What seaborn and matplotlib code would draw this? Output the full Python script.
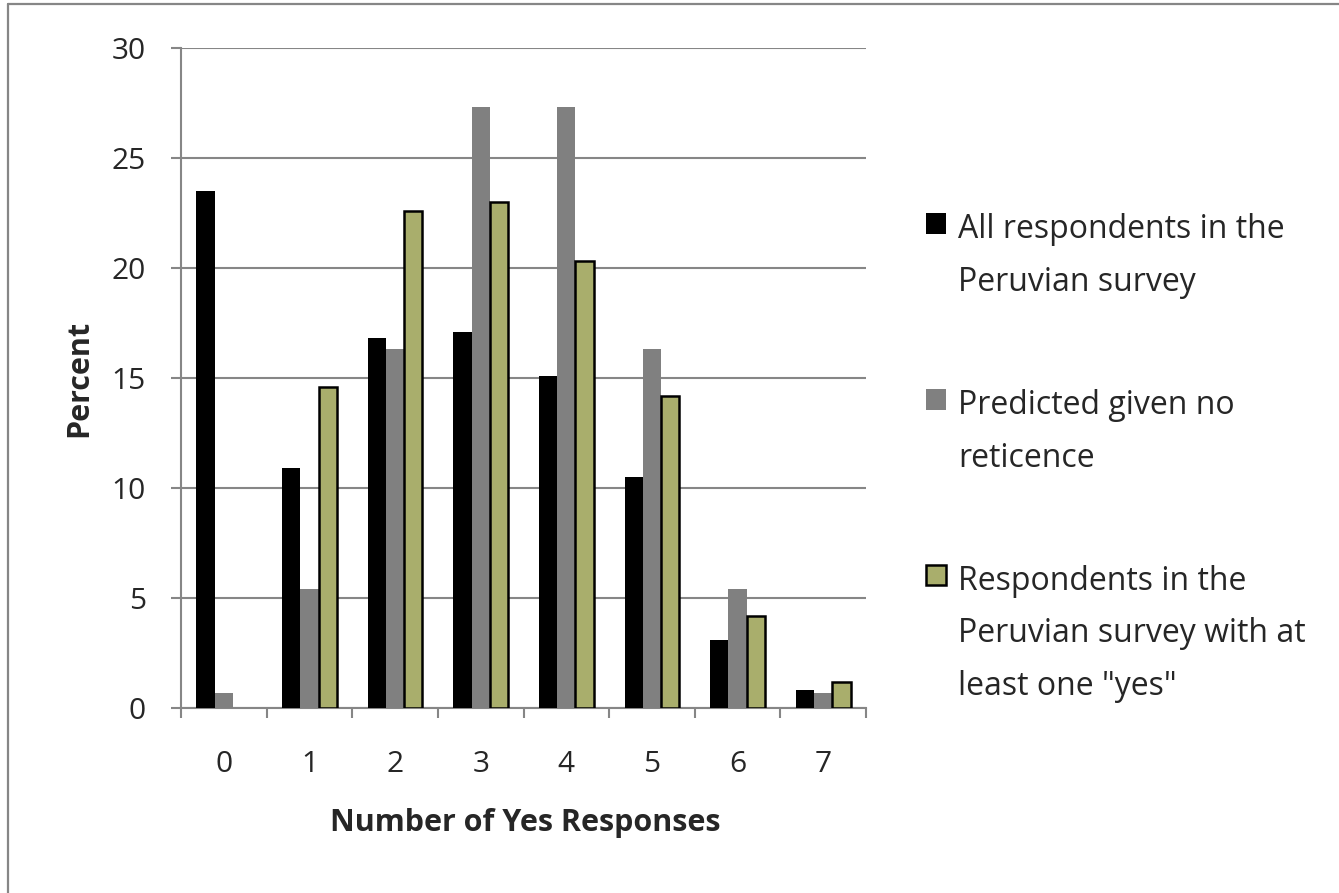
import numpy as np
import pandas as pd
import matplotlib
matplotlib.use("Agg")
import matplotlib.pyplot as plt
from matplotlib.lines import Line2D
import seaborn as sns

# Number of "yes" answers (0-7) and the share of respondents per count
categories = ["0", "1", "2", "3", "4", "5", "6", "7"]
all_respondents = [23.5, 10.9, 16.8, 17.1, 15.1, 10.5, 3.1, 0.8]
predicted_no_reticence = [0.7, 5.4, 16.3, 27.3, 27.3, 16.3, 5.4, 0.7]
at_least_one_yes = [0.0, 14.6, 22.6, 23.0, 20.3, 14.2, 4.2, 1.2]

series_names = [
    "All respondents in the\nPeruvian survey",
    "Predicted given no\nreticence",
    "Respondents in the\nPeruvian survey with at\nleast one \"yes\"",
]
series_values = [all_respondents, predicted_no_reticence, at_least_one_yes]
series_colors = ["#000000", "#808080", "#A9AE6C"]

yticks = [0, 5, 10, 15, 20, 25, 30]

df = pd.DataFrame(
    [
        {"responses": c, "percent": v, "series": name}
        for name, vals in zip(series_names, series_values)
        for c, v in zip(categories, vals)
    ]
)

sns.set_theme(style="white")
plt.rcParams["font.family"] = ["Open Sans", "DejaVu Sans"]

GRAY = "#868686"
TICK_FS = 21.5
LABEL_FS = 22
LEGEND_FS = 23

fig = plt.figure(figsize=(13.39, 8.93), dpi=100)
ax = fig.add_axes([181 / 1339, 185 / 893, 685 / 1339, 660 / 893])

sns.barplot(
    data=df, x="responses", y="percent", hue="series",
    order=categories, hue_order=series_names,
    palette=series_colors, saturation=1, width=0.64,
    legend=False, ax=ax, zorder=3,
)

# plain fills for the first two series, outlined fill for the third
for i, cont in enumerate(ax.containers):
    for p in cont.patches:
        if i == 2 and p.get_height() > 0:
            p.set_edgecolor("black")
            p.set_linewidth(1.8)
        else:
            p.set_linewidth(0)

ax.set_ylim(0, 30)
ax.set_xlim(-0.5, len(categories) - 0.5)
ax.set_yticks(yticks)
ax.set_yticklabels([str(t) for t in yticks], fontsize=TICK_FS)
ax.yaxis.grid(True, color=GRAY, linewidth=1.5, zorder=0)
ax.set_axisbelow(True)

# category labels at bar-group centres, tick marks on the boundaries
ax.set_xticks(range(len(categories)))
ax.set_xticklabels(categories, fontsize=TICK_FS)
ax.set_xticks(np.arange(-0.5, len(categories), 1.0), minor=True)
ax.tick_params(axis="x", which="major", length=0, pad=30)
ax.tick_params(axis="x", which="minor", length=7.2, width=1.5, color=GRAY,
               direction="out", bottom=True)
ax.tick_params(axis="y", which="major", length=7.2, width=1.5, color=GRAY,
               direction="out", left=True, pad=18)

for side in ["top", "right"]:
    ax.spines[side].set_visible(False)
for side in ["left", "bottom"]:
    ax.spines[side].set_color(GRAY)
    ax.spines[side].set_linewidth(1.5)

ax.set_xlabel("Number of Yes Responses", fontsize=LABEL_FS, fontweight="bold")
ax.set_ylabel("Percent", fontsize=LABEL_FS, fontweight="bold")
ax.xaxis.set_label_coords(0.503, -0.152)
ax.yaxis.set_label_coords(-0.126, 0.5)

handles = [cont.patches[1] for cont in ax.containers]
fs_px = LEGEND_FS / 72 * 100
leg = fig.legend(
    handles, series_names,
    loc="upper left", bbox_to_anchor=(926 / 1339, (893 - 213) / 893),
    frameon=False, fontsize=LEGEND_FS, borderpad=0, borderaxespad=0,
    handlelength=20 / fs_px, handleheight=20 / fs_px,
    handletextpad=12 / fs_px, labelspacing=2.82,
)
for t in leg.get_texts():
    t.set_linespacing(1.79)
# put each marker next to the first line of its label
for col in leg._legend_handle_box.get_children():
    for item in col.get_children():
        item.align = "top"

# chart-area border (top and left edges)
fig.add_artist(Line2D([8 / 1339, 1.0], [(893 - 4) / 893] * 2,
                      transform=fig.transFigure, color=GRAY, linewidth=1.6))
fig.add_artist(Line2D([8 / 1339] * 2, [0.0, (893 - 4) / 893],
                      transform=fig.transFigure, color=GRAY, linewidth=1.6))

fig.savefig("out.png", dpi=100, facecolor="white")
